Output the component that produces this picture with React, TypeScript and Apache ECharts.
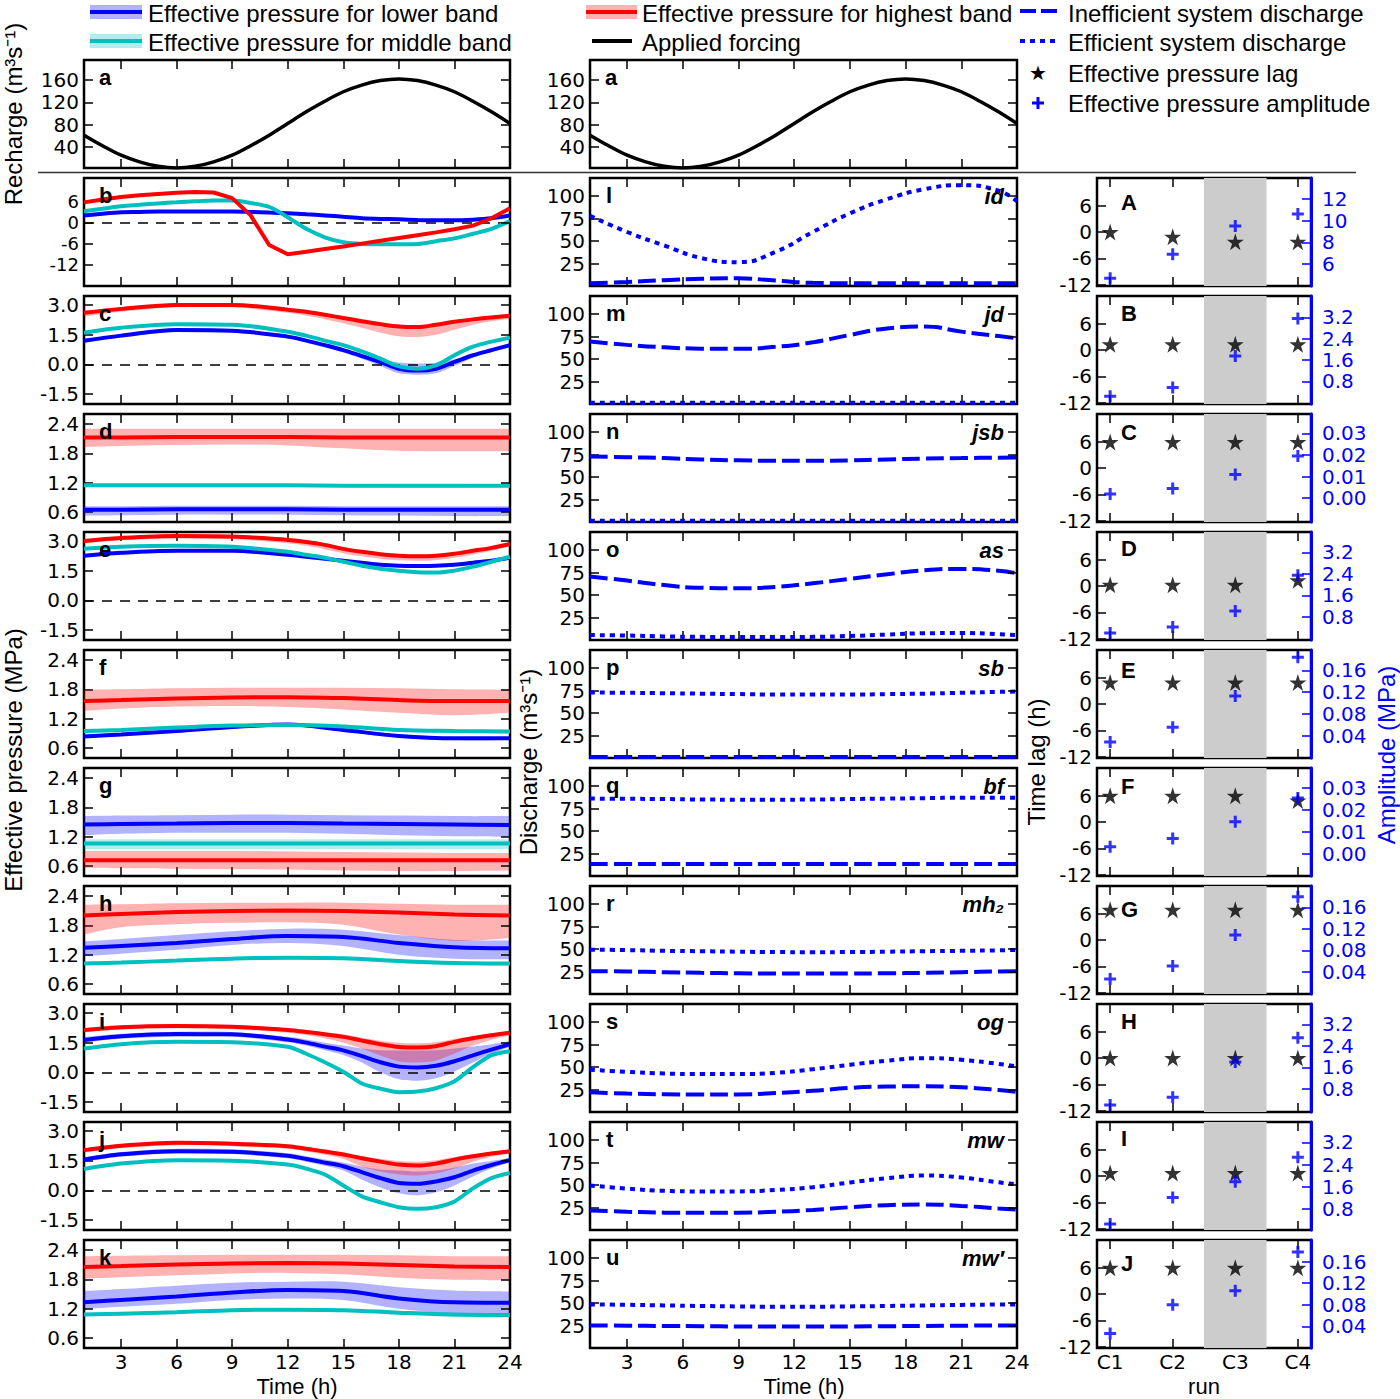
import React, { useEffect, useRef } from "react";
import * as echarts from "echarts";

// ---------------- DATA ----------------
const HOURS = [1, 2, 3, 4, 5, 6, 7, 8, 9, 10, 11, 12, 13, 14, 15, 16, 17, 18, 19, 20, 21, 22, 23, 24];
const RECHARGE = [61, 42, 25, 13, 5, 2, 5, 13, 25, 42, 61, 82, 103, 122, 139, 151, 159, 162, 159, 151, 139, 122, 103, 82];

const HOUR_TICKS = [3, 6, 9, 12, 15, 18, 21, 24];
const RECHARGE_TICKS = [40, 80, 120, 160];
const B_TICKS = [-12, -6, 0, 6];
const DIP_TICKS = [-1.5, 0, 1.5, 3];
const FLAT_TICKS = [0.6, 1.2, 1.8, 2.4];
const DISCHARGE_TICKS = [25, 50, 75, 100];
const LAG_TICKS = [-12, -6, 0, 6];
const RUNS = [1, 2, 3, 4];
const SHADE = [2.5, 3.5];

// panel b (hourly)
const B_RED = [5.7, 6.5, 7.2, 7.7, 8.1, 8.4, 8.6, 8.5, 6.9, 2.0, -6.4, -9.0, -8.3, -7.5, -6.8, -6.0, -5.2, -4.4, -3.6, -2.8, -1.9, -0.9, 1.2, 4.0];
const B_CYAN = [3.2, 3.9, 4.6, 5.0, 5.4, 5.7, 6.0, 6.2, 6.2, 5.5, 4.4, 1.5, -1.8, -4.2, -5.6, -6.1, -6.2, -6.2, -6.1, -5.3, -4.5, -3.2, -1.8, 0.4];
const B_BLUE = [2.0, 2.5, 2.9, 3.0, 3.1, 3.1, 3.1, 3.1, 3.1, 3.0, 2.8, 2.6, 2.3, 2.0, 1.6, 1.2, 1.0, 0.9, 0.7, 0.6, 0.6, 0.8, 1.2, 2.0];

const TIME_DIP = [1, 3, 6, 9, 12, 13, 14, 15, 16, 17, 18, 19, 20, 21, 22, 23, 24];
const TIME_FLAT = [1, 3, 6, 9, 12, 15, 18, 21, 24];

// panel c
const C_RED = [2.6, 2.8, 3.0, 3.0, 2.76, 2.65, 2.5, 2.34, 2.18, 2.03, 1.91, 1.88, 2.0, 2.15, 2.27, 2.37, 2.46];
const C_RED_LO = [2.42, 2.66, 2.88, 2.88, 2.6, 2.45, 2.28, 2.08, 1.85, 1.6, 1.42, 1.38, 1.5, 1.75, 2.0, 2.18, 2.3];
const C_RED_HI = [2.7, 2.88, 3.07, 3.07, 2.84, 2.73, 2.58, 2.42, 2.26, 2.12, 2.0, 1.97, 2.08, 2.23, 2.35, 2.45, 2.55];
const C_CYAN = [1.6, 1.85, 2.03, 2.0, 1.65, 1.45, 1.2, 0.97, 0.65, 0.29, -0.1, -0.22, -0.05, 0.46, 0.89, 1.15, 1.35];
const C_CYAN_LO = [1.54, 1.79, 1.97, 1.94, 1.59, 1.39, 1.13, 0.9, 0.57, 0.2, -0.2, -0.32, -0.15, 0.38, 0.82, 1.09, 1.29];
const C_CYAN_HI = [1.66, 1.91, 2.09, 2.06, 1.71, 1.51, 1.27, 1.04, 0.73, 0.38, 0.0, -0.12, 0.05, 0.54, 0.96, 1.21, 1.41];
const C_BLUE = [1.19, 1.45, 1.74, 1.7, 1.4, 1.2, 0.97, 0.72, 0.42, 0.12, -0.22, -0.31, -0.22, 0.12, 0.46, 0.72, 0.97];
const C_BLUE_LO = [1.1, 1.36, 1.65, 1.61, 1.31, 1.1, 0.86, 0.6, 0.28, -0.08, -0.45, -0.52, -0.45, -0.08, 0.35, 0.63, 0.88];
const C_BLUE_HI = [1.26, 1.52, 1.81, 1.77, 1.47, 1.27, 1.04, 0.8, 0.52, 0.25, 0.1, 0.05, 0.08, 0.25, 0.54, 0.79, 1.04];

// panel d
const D_RED = [2.12, 2.12, 2.13, 2.13, 2.13, 2.12, 2.12, 2.12, 2.12];
const D_RED_LO = [1.93, 1.95, 1.97, 1.98, 1.96, 1.9, 1.85, 1.84, 1.84];
const D_RED_HI = [2.3, 2.3, 2.3, 2.3, 2.3, 2.3, 2.3, 2.3, 2.3];
const D_CYAN = [1.15, 1.15, 1.15, 1.15, 1.15, 1.14, 1.14, 1.14, 1.14];
const D_CYAN_LO = [1.12, 1.12, 1.12, 1.12, 1.12, 1.11, 1.1, 1.1, 1.11];
const D_CYAN_HI = [1.18, 1.18, 1.18, 1.18, 1.18, 1.17, 1.17, 1.17, 1.17];
const D_BLUE = [0.65, 0.65, 0.66, 0.66, 0.66, 0.65, 0.65, 0.65, 0.65];
const D_BLUE_LO = [0.53, 0.54, 0.55, 0.55, 0.55, 0.54, 0.53, 0.52, 0.52];
const D_BLUE_HI = [0.72, 0.72, 0.73, 0.73, 0.73, 0.72, 0.72, 0.72, 0.72];

// panel e
const E_RED = [3.0, 3.15, 3.25, 3.22, 3.05, 2.95, 2.8, 2.6, 2.45, 2.33, 2.25, 2.22, 2.25, 2.35, 2.5, 2.65, 2.85];
const E_RED_LO = [2.88, 3.03, 3.12, 3.08, 2.88, 2.75, 2.58, 2.38, 2.22, 2.1, 2.02, 2.0, 2.03, 2.15, 2.32, 2.5, 2.72];
const E_RED_HI = [3.08, 3.23, 3.32, 3.3, 3.13, 3.03, 2.88, 2.68, 2.53, 2.41, 2.33, 2.3, 2.33, 2.43, 2.58, 2.73, 2.93];
const E_CYAN = [2.6, 2.7, 2.75, 2.7, 2.45, 2.3, 2.15, 1.95, 1.75, 1.6, 1.5, 1.42, 1.4, 1.5, 1.7, 1.95, 2.2];
const E_CYAN_LO = [2.55, 2.65, 2.7, 2.65, 2.4, 2.25, 2.1, 1.9, 1.7, 1.55, 1.45, 1.37, 1.35, 1.45, 1.65, 1.9, 2.15];
const E_CYAN_HI = [2.65, 2.75, 2.8, 2.75, 2.5, 2.35, 2.2, 2.0, 1.8, 1.65, 1.55, 1.47, 1.45, 1.55, 1.75, 2.0, 2.25];
const E_BLUE = [2.25, 2.4, 2.5, 2.5, 2.3, 2.2, 2.1, 2.0, 1.9, 1.8, 1.75, 1.74, 1.75, 1.8, 1.9, 2.0, 2.15];
const E_BLUE_LO = [2.19, 2.34, 2.44, 2.44, 2.24, 2.14, 2.04, 1.94, 1.84, 1.74, 1.69, 1.68, 1.69, 1.74, 1.84, 1.94, 2.09];
const E_BLUE_HI = [2.31, 2.46, 2.56, 2.56, 2.36, 2.26, 2.16, 2.06, 1.96, 1.86, 1.81, 1.8, 1.81, 1.86, 1.96, 2.06, 2.21];

// panel f
const F_RED = [1.56, 1.58, 1.61, 1.63, 1.64, 1.62, 1.58, 1.56, 1.56];
const F_RED_LO = [1.36, 1.41, 1.45, 1.46, 1.44, 1.39, 1.32, 1.27, 1.32];
const F_RED_HI = [1.79, 1.8, 1.82, 1.83, 1.83, 1.83, 1.82, 1.8, 1.79];
const F_CYAN = [0.95, 0.97, 1.02, 1.06, 1.07, 1.04, 0.97, 0.95, 0.94];
const F_CYAN_LO = [0.92, 0.94, 0.99, 1.03, 1.04, 1.01, 0.94, 0.91, 0.9];
const F_CYAN_HI = [0.98, 1.0, 1.05, 1.09, 1.1, 1.07, 1.0, 0.98, 0.97];
const F_BLUE = [0.84, 0.88, 0.95, 1.03, 1.08, 0.97, 0.85, 0.8, 0.8];
const F_BLUE_LO = [0.81, 0.85, 0.92, 1.0, 1.05, 0.94, 0.81, 0.76, 0.76];
const F_BLUE_HI = [0.87, 0.91, 0.98, 1.06, 1.11, 1.0, 0.88, 0.83, 0.83];

// panel g
const G_RED = [0.72, 0.72, 0.72, 0.72, 0.72, 0.72, 0.72, 0.72, 0.72];
const G_RED_LO = [0.57, 0.56, 0.55, 0.54, 0.53, 0.51, 0.5, 0.5, 0.51];
const G_RED_HI = [0.91, 0.91, 0.91, 0.91, 0.9, 0.89, 0.88, 0.87, 0.87];
const G_CYAN = [1.06, 1.06, 1.06, 1.06, 1.06, 1.06, 1.06, 1.06, 1.06];
const G_CYAN_LO = [0.95, 0.95, 0.95, 0.95, 0.95, 0.95, 0.95, 0.95, 0.95];
const G_CYAN_HI = [1.15, 1.15, 1.15, 1.15, 1.15, 1.15, 1.15, 1.15, 1.15];
const G_BLUE = [1.45, 1.46, 1.47, 1.48, 1.48, 1.47, 1.46, 1.45, 1.44];
const G_BLUE_LO = [1.23, 1.26, 1.28, 1.28, 1.28, 1.26, 1.23, 1.21, 1.2];
const G_BLUE_HI = [1.62, 1.63, 1.64, 1.65, 1.65, 1.64, 1.63, 1.62, 1.62];

// panel h
const H_RED = [2.0, 2.03, 2.07, 2.09, 2.1, 2.09, 2.06, 2.02, 2.0];
const H_RED_LO = [1.61, 1.76, 1.82, 1.85, 1.86, 1.81, 1.61, 1.48, 1.54];
const H_RED_HI = [2.22, 2.23, 2.25, 2.26, 2.26, 2.26, 2.24, 2.22, 2.22];
const H_CYAN = [1.02, 1.04, 1.08, 1.12, 1.14, 1.13, 1.07, 1.03, 1.02];
const H_CYAN_LO = [0.99, 1.01, 1.05, 1.09, 1.11, 1.1, 1.03, 0.99, 0.98];
const H_CYAN_HI = [1.05, 1.07, 1.11, 1.15, 1.17, 1.16, 1.1, 1.06, 1.05];
const H_BLUE = [1.34, 1.38, 1.44, 1.52, 1.58, 1.56, 1.44, 1.35, 1.33];
const H_BLUE_LO = [1.17, 1.22, 1.3, 1.4, 1.44, 1.38, 1.2, 1.12, 1.11];
const H_BLUE_HI = [1.47, 1.52, 1.6, 1.68, 1.73, 1.71, 1.6, 1.5, 1.49];

// panel i
const I_RED = [2.14, 2.28, 2.34, 2.3, 2.14, 2.04, 1.92, 1.79, 1.6, 1.42, 1.28, 1.25, 1.32, 1.54, 1.72, 1.87, 2.0];
const I_RED_LO = [2.02, 2.16, 2.22, 2.18, 2.0, 1.88, 1.72, 1.5, 1.2, 0.85, 0.55, 0.5, 0.6, 0.95, 1.35, 1.65, 1.86];
const I_RED_HI = [2.22, 2.36, 2.42, 2.38, 2.22, 2.12, 2.02, 1.92, 1.75, 1.6, 1.5, 1.47, 1.52, 1.7, 1.84, 1.96, 2.08];
const I_CYAN = [1.2, 1.42, 1.54, 1.52, 1.29, 0.94, 0.51, 0.03, -0.56, -0.82, -1.0, -0.97, -0.8, -0.45, 0.26, 0.87, 1.07];
const I_CYAN_LO = [1.16, 1.38, 1.5, 1.48, 1.25, 0.9, 0.47, -0.01, -0.6, -0.86, -1.04, -1.01, -0.84, -0.49, 0.22, 0.83, 1.03];
const I_CYAN_HI = [1.24, 1.46, 1.58, 1.56, 1.33, 0.98, 0.55, 0.07, -0.52, -0.78, -0.96, -0.93, -0.76, -0.41, 0.3, 0.91, 1.11];
const I_BLUE = [1.63, 1.82, 1.93, 1.92, 1.66, 1.5, 1.3, 1.11, 0.82, 0.51, 0.29, 0.25, 0.33, 0.56, 0.86, 1.15, 1.42];
const I_BLUE_LO = [1.5, 1.7, 1.8, 1.8, 1.52, 1.34, 1.12, 0.88, 0.5, 0.0, -0.35, -0.42, -0.3, 0.05, 0.5, 0.95, 1.28];
const I_BLUE_HI = [1.78, 1.95, 2.05, 2.04, 1.8, 1.66, 1.5, 1.35, 1.2, 1.12, 1.1, 1.1, 1.12, 1.2, 1.3, 1.42, 1.58];

// panel j
const J_RED = [2.03, 2.25, 2.4, 2.35, 2.23, 2.1, 1.96, 1.81, 1.62, 1.45, 1.3, 1.25, 1.35, 1.55, 1.72, 1.86, 1.98];
const J_RED_LO = [1.91, 2.13, 2.28, 2.23, 2.1, 1.96, 1.8, 1.6, 1.2, 0.95, 0.8, 0.75, 0.85, 1.1, 1.45, 1.7, 1.85];
const J_RED_HI = [2.11, 2.33, 2.48, 2.43, 2.31, 2.18, 2.05, 1.91, 1.74, 1.6, 1.48, 1.44, 1.52, 1.68, 1.82, 1.95, 2.06];
const J_CYAN = [1.08, 1.35, 1.52, 1.5, 1.3, 1.1, 0.8, 0.25, -0.3, -0.6, -0.85, -0.93, -0.85, -0.56, 0.1, 0.62, 0.88];
const J_CYAN_LO = [1.04, 1.31, 1.48, 1.46, 1.26, 1.06, 0.76, 0.21, -0.34, -0.64, -0.89, -0.97, -0.89, -0.6, 0.06, 0.58, 0.84];
const J_CYAN_HI = [1.12, 1.39, 1.56, 1.54, 1.34, 1.14, 0.84, 0.29, -0.26, -0.56, -0.81, -0.89, -0.81, -0.52, 0.14, 0.66, 0.92];
const J_BLUE = [1.56, 1.82, 1.98, 1.95, 1.75, 1.58, 1.4, 1.22, 0.92, 0.62, 0.37, 0.33, 0.45, 0.66, 1.0, 1.28, 1.52];
const J_BLUE_LO = [1.44, 1.7, 1.86, 1.83, 1.62, 1.44, 1.24, 1.0, 0.55, 0.15, -0.15, -0.25, -0.1, 0.25, 0.7, 1.1, 1.4];
const J_BLUE_HI = [1.68, 1.94, 2.1, 2.07, 1.87, 1.72, 1.56, 1.4, 1.2, 1.05, 1.0, 0.95, 1.0, 1.15, 1.35, 1.48, 1.64];

// panel k
const K_RED = [2.05, 2.07, 2.1, 2.12, 2.13, 2.12, 2.09, 2.06, 2.05];
const K_RED_LO = [1.81, 1.84, 1.88, 1.92, 1.93, 1.9, 1.83, 1.79, 1.78];
const K_RED_HI = [2.27, 2.28, 2.29, 2.3, 2.3, 2.3, 2.29, 2.27, 2.27];
const K_CYAN = [1.08, 1.1, 1.13, 1.17, 1.18, 1.17, 1.12, 1.08, 1.07];
const K_CYAN_LO = [1.05, 1.07, 1.1, 1.14, 1.15, 1.14, 1.08, 1.03, 1.02];
const K_CYAN_HI = [1.11, 1.13, 1.16, 1.2, 1.21, 1.2, 1.15, 1.11, 1.1];
const K_BLUE = [1.33, 1.38, 1.45, 1.53, 1.58, 1.56, 1.41, 1.33, 1.32];
const K_BLUE_LO = [1.2, 1.24, 1.3, 1.38, 1.41, 1.38, 1.2, 1.1, 1.08];
const K_BLUE_HI = [1.56, 1.6, 1.67, 1.73, 1.75, 1.75, 1.64, 1.57, 1.55];

// discharge panels (middle column)
const TIME_M = [1, 3, 5, 7, 9, 11, 13, 15, 17, 19, 21, 23, 24];
const L_EFF = [78, 60, 45, 31, 26.5, 38, 60, 80.7, 96.5, 107.5, 112, 106, 94];
const L_INEFF = [3, 4.5, 6.5, 8, 8.5, 6, 3.5, 3, 3, 3, 3, 3, 3];
const M_EFF = [1.5, 1.5, 1.5, 1.5, 1.5, 1.5, 1.5, 1.5, 1.5, 1.5, 1.5, 1.5, 1.5];
const M_INEFF = [69.4, 65.7, 63, 61.5, 61.3, 63.5, 68.5, 76.7, 84, 86, 80.4, 75.5, 73];
const N_EFF = [1.5, 1.5, 1.5, 1.5, 1.5, 1.5, 1.5, 1.5, 1.5, 1.5, 1.5, 1.5, 1.5];
const N_INEFF = [72.7, 72, 71, 69.5, 68.5, 68, 68, 68.5, 69.5, 70.5, 71, 71.5, 71.6];
const O_EFF = [5.5, 5, 4, 3.5, 3.3, 3.3, 3.5, 4.5, 6, 7.5, 7.7, 6.5, 5.5];
const O_INEFF = [70.5, 66, 61, 58, 57.5, 59, 63, 68, 73, 77.5, 79, 77, 74];
const P_EFF = [72.7, 72.5, 72, 71.5, 71, 70.5, 70.5, 70.5, 71, 71.5, 72.5, 73.5, 73.8];
const P_INEFF = [1, 1, 1, 1, 1, 1, 1, 1, 1, 1, 1, 1, 1];
const Q_EFF = [86, 85.8, 85.5, 85, 84.8, 84.8, 85, 85.5, 86, 86.5, 87, 87, 87];
const Q_INEFF = [13.2, 13.2, 13.2, 13.2, 13.2, 13.2, 13.2, 13.2, 13.2, 13.2, 13.2, 13.2, 13.2];
const R_EFF = [49.2, 48.8, 48, 47.5, 47, 46.6, 46.5, 46.6, 47, 47.5, 48, 48.5, 49];
const R_INEFF = [25.3, 25, 24.2, 23.5, 23, 22.8, 22.7, 22.8, 23, 23.5, 24.2, 25, 25.3];
const S_EFF = [47, 44.5, 42.8, 42.2, 42.2, 43.5, 47.5, 52.5, 57, 59.8, 58, 53.5, 50.6];
const S_INEFF = [22, 20.5, 19.7, 19.5, 19.5, 21, 23.5, 26.8, 28.3, 28.6, 27.5, 24.5, 22.4];
const T_EFF = [49.5, 46, 43.5, 42.9, 42.9, 44.5, 47.5, 52.8, 57.5, 60.5, 58.3, 53, 50.6];
const T_INEFF = [21.7, 20.3, 19.3, 19.1, 19.2, 20.3, 22.3, 25.3, 27.6, 28.4, 26.8, 24, 22.8];
const U_EFF = [48.4, 48, 47.3, 46.7, 46.2, 45.9, 45.9, 46.2, 46.7, 47.3, 47.9, 48.3, 48.4];
const U_INEFF = [25, 24.8, 24.5, 24.2, 24, 24, 24, 24, 24.2, 24.5, 24.8, 25, 25];

const MID_LETTERS = ["l", "m", "n", "o", "p", "q", "r", "s", "t", "u"];
const MID_NAMES = ["id", "jd", "jsb", "as", "sb", "bf", "mh\u2082", "og", "mw", "mw\u2032"];

// right column: lag (h) and amplitude
const RIGHT_LETTERS = ["A", "B", "C", "D", "E", "F", "G", "H", "I", "J"];
const LAG_A = [0, -1.1, -2.2, -2.2];
const LAG_B = [1.3, 1.3, 1.3, 1.3];
const LAG_C = [5.9, 5.9, 5.9, 5.9];
const LAG_D = [0.3, 0.3, 0.3, 1.3];
const LAG_E = [4.9, 4.9, 4.9, 4.9];
const LAG_F = [6, 6, 6, 4.9];
const LAG_G = [6.9, 6.9, 6.9, 6.9];
const LAG_H = [0, 0, 0, 0];
const LAG_I = [0.7, 0.7, 0.7, 0.7];
const LAG_J = [6, 6, 6, 6];
const AMP_A = [4.7, 6.9, 9.5, 10.6];
const AMP_B = [0.24, 0.57, 1.75, 3.16];
const AMP_C = [0.002, 0.0045, 0.011, 0.0195];
const AMP_D = [0.21, 0.43, 1.02, 2.35];
const AMP_E = [0.029, 0.056, 0.113, 0.184];
const AMP_F = [0.0032, 0.0069, 0.0146, 0.0254];
const AMP_G = [0.027, 0.051, 0.109, 0.18];
const AMP_H = [0.21, 0.5, 1.8, 2.7];
const AMP_I = [0.25, 1.21, 1.78, 2.66];
const AMP_J = [0.027, 0.08, 0.106, 0.178];
const AMP_TICKS_A = [6, 8, 10, 12];
const AMP_TICKS_BIG = [0.8, 1.6, 2.4, 3.2];
const AMP_TICKS_SMALL = [0, 0.01, 0.02, 0.03];
const AMP_TICKS_MID = [0.04, 0.08, 0.12, 0.16];

// ---------------- STYLE ----------------
const FONT = '"Liberation Sans", Arial, sans-serif';
const TICK_FONT = '"DejaVu Sans", sans-serif';
const TICK_SIZE = 20;
const BLUE = "#0000ff";
const RED = "#ff0000";
const CYAN = "#00bfbf";
const BAND_BLUE = "rgba(0,0,255,0.3)";
const BAND_RED = "rgba(255,0,0,0.3)";
const BAND_CYAN = "rgba(0,191,191,0.3)";
const STAR = "path://M50,0 L61.2,34.5 L97.6,34.5 L68.2,55.9 L79.4,90.5 L50,69.1 L20.6,90.5 L31.8,55.9 L2.4,34.5 L38.8,34.5 Z";
const PLUS = "path://M37.5,0 L62.5,0 L62.5,37.5 L100,37.5 L100,62.5 L62.5,62.5 L62.5,100 L37.5,100 L37.5,62.5 L0,62.5 L0,37.5 L37.5,37.5 Z";

const LX = 84, LW = 426, MX = 590, MW = 427, RX = 1097, RW = 214, PH = 108;
const rowTop = (i: number) => 178 + 118 * i;

// Catmull-Rom spline through pixel points, as SVG path commands
function splinePath(p: number[][], start: string) {
  let d = `${start}${p[0][0]},${p[0][1]}`;
  const n = p.length;
  const k = 1 / 6;
  for (let i = 0; i < n - 1; i++) {
    const p0 = p[Math.max(i - 1, 0)], p1 = p[i], p2 = p[i + 1], p3 = p[Math.min(i + 2, n - 1)];
    const c1x = p1[0] + (p2[0] - p0[0]) * k, c1y = p1[1] + (p2[1] - p0[1]) * k;
    const c2x = p2[0] - (p3[0] - p1[0]) * k, c2y = p2[1] - (p3[1] - p1[1]) * k;
    d += ` C${c1x},${c1y} ${c2x},${c2y} ${p2[0]},${p2[1]}`;
  }
  return d;
}

function buildOption() {
  const grid: any[] = [];
  const xAxis: any[] = [];
  const yAxis: any[] = [];
  const series: any[] = [];
  const els: any[] = [];

  const fmt = (dec: number, prefix = "") => (v: any) => prefix + Number(v).toFixed(dec);
  const tick = (vals: number[], color = "#000") => ({
    show: true, inside: true, length: 9, customValues: vals, lineStyle: { color, width: 1.5 },
  });
  const lab = (ax: any, show: boolean, color: string, margin: number) => ({
    show, customValues: ax.ticks, formatter: fmt(ax.dec ?? 0, ax.prefix ?? ""), color,
    fontFamily: TICK_FONT, fontSize: ax.size ?? TICK_SIZE, lineHeight: ax.size ?? TICK_SIZE, margin,
  });

  function addGrid(left: number, top: number, width: number, xa: any, yl: any, yr: any, blue = false) {
    const gi = grid.length;
    grid.push({ left, top, width, height: PH, show: true, borderColor: "#000", borderWidth: 2.5, backgroundColor: "transparent" });
    ["bottom", "top"].forEach((pos, k) => {
      xAxis.push({
        gridIndex: gi, type: "value", position: pos, min: xa.min, max: xa.max,
        axisLine: { show: false, onZero: false }, axisTick: tick(xa.ticks),
        axisLabel: lab(xa, k === 0 && !!xa.show, "#000", 4),
        splitLine: { show: false },
      });
    });
    yAxis.push({
      gridIndex: gi, type: "value", position: "left", min: yl.min, max: yl.max,
      axisLine: { show: false, onZero: false }, axisTick: tick(yl.ticks), axisLabel: lab(yl, true, "#000", 5),
      splitLine: { show: false },
    });
    yAxis.push({
      gridIndex: gi, type: "value", position: "right", min: yr.min, max: yr.max, z: 5,
      axisLine: blue ? { show: true, onZero: false, lineStyle: { color: BLUE, width: 3 } } : { show: false, onZero: false },
      axisTick: tick(yr.ticks, blue ? BLUE : "#000"), axisLabel: lab(yr, blue, BLUE, 11),
      splitLine: { show: false },
    });
    return gi;
  }

  const pts = (t: number[], v: number[]) => t.map((x, i) => [x, v[i]]);
  function line(gi: number, t: number[], v: number[], color: string, o: any = {}) {
    const s: any = {
      type: "line", xAxisIndex: 2 * gi, yAxisIndex: 2 * gi, data: pts(t, v), symbol: "none",
      smooth: o.smooth ?? 0.35, silent: true, z: 4,
      lineStyle: { color, width: o.width ?? 4, type: o.dash ?? "solid", cap: "butt" },
    };
    if (o.zero) {
      s.markLine = {
        silent: true, symbol: "none", z: 3, label: { show: false },
        lineStyle: { color: "#000", width: 1.5, type: [10, 8] }, data: [{ yAxis: 0 }],
      };
    }
    series.push(s);
  }
  function band(gi: number, t: number[], lo: number[], hi: number[], color: string) {
    series.push({
      type: "custom", xAxisIndex: 2 * gi, yAxisIndex: 2 * gi, clip: true, silent: true, z: 2,
      data: t.map((x, i) => [x, lo[i], hi[i]]),
      encode: { x: 0, y: [1, 2] },
      renderItem: (params: any, api: any) => {
        if (params.dataIndex !== 0) return null;
        const top = t.map((x, i) => api.coord([x, hi[i]]));
        const bot = t.map((x, i) => api.coord([x, lo[i]])).reverse();
        const d = splinePath(top, "M") + " " + splinePath(bot, "L") + " Z";
        return { type: "path", shape: { pathData: d }, style: { fill: color } };
      },
    });
  }
  function text(x: number, y: number, t: string, o: any = {}) {
    els.push({
      type: "text", x, y, rotation: o.rot ?? 0, z: 100, silent: true,
      style: {
        text: t, fill: o.color ?? "#000", fontSize: o.size ?? 24, fontFamily: o.family ?? FONT,
        fontWeight: o.weight ?? "normal", fontStyle: o.style ?? "normal",
        align: o.align ?? "left", verticalAlign: "middle", textAlign: o.align ?? "left", textVerticalAlign: "middle",
      },
    });
  }

  const XL = (show: boolean) => ({ min: 1, max: 24, ticks: HOUR_TICKS, dec: 0, show });
  const Y_A = { min: 2, max: 196, ticks: RECHARGE_TICKS, dec: 0 };
  const Y_B = { min: -18, max: 12.6, ticks: B_TICKS, dec: 0, size: 18 };
  const Y_DIP = { min: -2.0, max: 3.45, ticks: DIP_TICKS, dec: 1 };
  const Y_FLAT = { min: 0.4, max: 2.6, ticks: FLAT_TICKS, dec: 1 };
  const Y_Q = { min: 0, max: 120, ticks: DISCHARGE_TICKS, dec: 0 };
  const Y_LAG = { min: -12.3, max: 12.3, ticks: LAG_TICKS, dec: 0 };

  // ---- top row (recharge) ----
  [LX, MX].forEach((left) => {
    const gi = addGrid(left, 60, left === LX ? LW : MW, XL(false), Y_A, Y_A);
    line(gi, HOURS, RECHARGE, "#000", { width: 3.5 });
    text(left + 15, 60 + 17, "a", { weight: "bold", size: 22 });
  });

  // ---- left column: effective pressure ----
  const EP: any[] = [
    { t: HOURS, y: Y_B, zero: true, r: [B_RED], c: [B_CYAN], b: [B_BLUE] },
    { t: TIME_DIP, y: Y_DIP, zero: true, r: [C_RED, C_RED_LO, C_RED_HI], c: [C_CYAN, C_CYAN_LO, C_CYAN_HI], b: [C_BLUE, C_BLUE_LO, C_BLUE_HI] },
    { t: TIME_FLAT, y: Y_FLAT, r: [D_RED, D_RED_LO, D_RED_HI], c: [D_CYAN, D_CYAN_LO, D_CYAN_HI], b: [D_BLUE, D_BLUE_LO, D_BLUE_HI] },
    { t: TIME_DIP, y: Y_DIP, zero: true, r: [E_RED, E_RED_LO, E_RED_HI], c: [E_CYAN, E_CYAN_LO, E_CYAN_HI], b: [E_BLUE, E_BLUE_LO, E_BLUE_HI] },
    { t: TIME_FLAT, y: Y_FLAT, r: [F_RED, F_RED_LO, F_RED_HI], c: [F_CYAN, F_CYAN_LO, F_CYAN_HI], b: [F_BLUE, F_BLUE_LO, F_BLUE_HI] },
    { t: TIME_FLAT, y: Y_FLAT, r: [G_RED, G_RED_LO, G_RED_HI], c: [G_CYAN, G_CYAN_LO, G_CYAN_HI], b: [G_BLUE, G_BLUE_LO, G_BLUE_HI] },
    { t: TIME_FLAT, y: Y_FLAT, r: [H_RED, H_RED_LO, H_RED_HI], c: [H_CYAN, H_CYAN_LO, H_CYAN_HI], b: [H_BLUE, H_BLUE_LO, H_BLUE_HI] },
    { t: TIME_DIP, y: Y_DIP, zero: true, sm: 0.25, r: [I_RED, I_RED_LO, I_RED_HI], c: [I_CYAN, I_CYAN_LO, I_CYAN_HI], b: [I_BLUE, I_BLUE_LO, I_BLUE_HI] },
    { t: TIME_DIP, y: Y_DIP, zero: true, sm: 0.25, r: [J_RED, J_RED_LO, J_RED_HI], c: [J_CYAN, J_CYAN_LO, J_CYAN_HI], b: [J_BLUE, J_BLUE_LO, J_BLUE_HI] },
    { t: TIME_FLAT, y: Y_FLAT, r: [K_RED, K_RED_LO, K_RED_HI], c: [K_CYAN, K_CYAN_LO, K_CYAN_HI], b: [K_BLUE, K_BLUE_LO, K_BLUE_HI] },
  ];
  const LEFT_LETTERS = ["b", "c", "d", "e", "f", "g", "h", "i", "j", "k"];
  EP.forEach((p, i) => {
    const top = rowTop(i);
    const gi = addGrid(LX, top, LW, XL(i === 9), p.y, p.y);
    const sm = p.sm ?? 0.35;
    if (p.b.length > 1) band(gi, p.t, p.b[1], p.b[2], BAND_BLUE);
    if (p.c.length > 1) band(gi, p.t, p.c[1], p.c[2], BAND_CYAN);
    if (p.r.length > 1) band(gi, p.t, p.r[1], p.r[2], BAND_RED);
    line(gi, p.t, p.b[0], BLUE, { zero: p.zero, smooth: i === 0 ? 0.3 : sm });
    line(gi, p.t, p.c[0], CYAN, { smooth: i === 0 ? 0.3 : sm });
    line(gi, p.t, p.r[0], RED, { smooth: i === 0 ? 0 : sm });
    text(LX + 15, top + 17, LEFT_LETTERS[i], { weight: "bold", size: 22 });
  });

  // ---- middle column: discharge ----
  const DQ = [
    [L_EFF, L_INEFF], [M_EFF, M_INEFF], [N_EFF, N_INEFF], [O_EFF, O_INEFF], [P_EFF, P_INEFF],
    [Q_EFF, Q_INEFF], [R_EFF, R_INEFF], [S_EFF, S_INEFF], [T_EFF, T_INEFF], [U_EFF, U_INEFF],
  ];
  DQ.forEach((d, i) => {
    const top = rowTop(i);
    const gi = addGrid(MX, top, MW, XL(i === 9), Y_Q, Y_Q);
    line(gi, TIME_M, d[1], BLUE, { dash: [18, 6], smooth: 0.5 });
    line(gi, TIME_M, d[0], BLUE, { dash: [5, 5], smooth: 0.5 });
    text(MX + 16, top + 17, MID_LETTERS[i], { weight: "bold", size: 22 });
    text(MX + MW - 13, top + 18, MID_NAMES[i], { weight: "bold", style: "italic", size: 22, align: "right" });
  });

  // ---- right column: lag & amplitude ----
  const LAGS = [LAG_A, LAG_B, LAG_C, LAG_D, LAG_E, LAG_F, LAG_G, LAG_H, LAG_I, LAG_J];
  const AMPS = [AMP_A, AMP_B, AMP_C, AMP_D, AMP_E, AMP_F, AMP_G, AMP_H, AMP_I, AMP_J];
  const AMP_AX = [
    { min: 4.0, max: 13.9, ticks: AMP_TICKS_A, dec: 0 },
    { min: -0.05, max: 4.0, ticks: AMP_TICKS_BIG, dec: 1 },
    { min: -0.011, max: 0.039, ticks: AMP_TICKS_SMALL, dec: 2 },
    { min: -0.05, max: 3.95, ticks: AMP_TICKS_BIG, dec: 1 },
    { min: 0.0, max: 0.197, ticks: AMP_TICKS_MID, dec: 2 },
    { min: -0.0101, max: 0.039, ticks: AMP_TICKS_SMALL, dec: 2 },
    { min: -0.001, max: 0.2, ticks: AMP_TICKS_MID, dec: 2 },
    { min: -0.05, max: 3.95, ticks: AMP_TICKS_BIG, dec: 1 },
    { min: 0.03, max: 3.94, ticks: AMP_TICKS_BIG, dec: 1 },
    { min: 0.0, max: 0.2, ticks: AMP_TICKS_MID, dec: 2 },
  ];
  const LETTER_DY = [24, 17, 18, 16, 20, 18, 23, 17, 16, 23];
  LAGS.forEach((lag, i) => {
    const top = rowTop(i);
    const xr = { min: 0.79, max: 4.21, ticks: RUNS, dec: 0, prefix: "C", show: i === 9 };
    const gi = addGrid(RX, top, RW, xr, Y_LAG, { ...AMP_AX[i], show: true }, true);
    series.push({
      type: "scatter", xAxisIndex: 2 * gi, yAxisIndex: 2 * gi, data: pts(RUNS, lag), symbol: STAR,
      symbolSize: 17, itemStyle: { color: "#000" }, z: 3, silent: true,
      markArea: { silent: true, itemStyle: { color: "#cccccc" }, data: [[{ xAxis: SHADE[0] }, { xAxis: SHADE[1] }]] },
    });
    series.push({
      type: "scatter", xAxisIndex: 2 * gi, yAxisIndex: 2 * gi + 1, data: pts(RUNS, AMPS[i]), symbol: PLUS,
      symbolSize: 12, itemStyle: { color: BLUE }, z: 4, silent: true,
    });
    text(1121, top + LETTER_DY[i], RIGHT_LETTERS[i], { weight: "bold", size: 22 });
  });

  // ---- separator ----
  els.push({ type: "line", z: 100, silent: true, shape: { x1: 38, y1: 172.5, x2: 1356, y2: 172.5 }, style: { stroke: "#333", lineWidth: 1.5 } });

  // ---- legend ----
  const bandSw = (x: number, y: number, w: number, fill: string, stroke: string) => {
    els.push({ type: "rect", z: 100, silent: true, shape: { x, y: y - 7, width: w, height: 14 }, style: { fill } });
    els.push({ type: "line", z: 100, silent: true, shape: { x1: x, y1: y, x2: x + w, y2: y }, style: { stroke, lineWidth: 4 } });
  };
  bandSw(90, 12, 52, BAND_BLUE, BLUE);
  text(148, 13, "Effective pressure for lower band");
  bandSw(90, 41, 52, BAND_CYAN, CYAN);
  text(148, 42, "Effective pressure for middle band");
  bandSw(586, 12, 51, BAND_RED, RED);
  text(642, 13, "Effective pressure for highest band");
  els.push({ type: "line", z: 100, silent: true, shape: { x1: 592, y1: 41, x2: 632, y2: 41 }, style: { stroke: "#000", lineWidth: 4 } });
  text(642, 42, "Applied forcing");
  els.push({ type: "line", z: 100, silent: true, shape: { x1: 1020, y1: 11, x2: 1057, y2: 11 }, style: { stroke: BLUE, lineWidth: 4, lineDash: [16, 5] } });
  text(1068, 13, "Inefficient system discharge");
  els.push({ type: "line", z: 100, silent: true, shape: { x1: 1020, y1: 41, x2: 1057, y2: 41 }, style: { stroke: BLUE, lineWidth: 4, lineDash: [5, 5] } });
  text(1068, 42, "Efficient system discharge");
  text(1038, 73, "\u2605", { family: TICK_FONT, size: 20, align: "center" });
  text(1068, 73, "Effective pressure lag");
  els.push({ type: "line", z: 100, silent: true, shape: { x1: 1032, y1: 103, x2: 1044, y2: 103 }, style: { stroke: BLUE, lineWidth: 3 } });
  els.push({ type: "line", z: 100, silent: true, shape: { x1: 1038, y1: 97, x2: 1038, y2: 109 }, style: { stroke: BLUE, lineWidth: 3 } });
  text(1068, 103, "Effective pressure amplitude");

  // ---- axis titles ----
  const R90 = Math.PI / 2;
  text(13, 114, "Recharge (m\u00b3s\u207b\u00b9)", { rot: R90, align: "center" });
  text(13, 760, "Effective pressure (MPa)", { rot: R90, align: "center" });
  text(528, 762, "Discharge (m\u00b3s\u207b\u00b9)", { rot: R90, align: "center" });
  text(1036, 762, "Time lag (h)", { rot: R90, align: "center" });
  text(1386, 755, "Amplitude (MPa)", { rot: R90, align: "center", color: BLUE });
  text(297, 1386, "Time (h)", { align: "center", size: 22 });
  text(804, 1386, "Time (h)", { align: "center", size: 22 });
  text(1204, 1386, "run", { align: "center", size: 22 });

  return {
    animation: false,
    backgroundColor: "#ffffff",
    grid, xAxis, yAxis, series,
    graphic: { elements: els },
  };
}

export default function App() {
  const ref = useRef<HTMLDivElement>(null);
  useEffect(() => {
    if (!ref.current) return;
    const chart = echarts.init(ref.current, null, { renderer: "svg" });
    chart.setOption(buildOption() as any);
    return () => chart.dispose();
  }, []);
  return <div ref={ref} style={{ position: "absolute", left: 0, top: 0, width: 1400, height: 1399 }} />;
}
